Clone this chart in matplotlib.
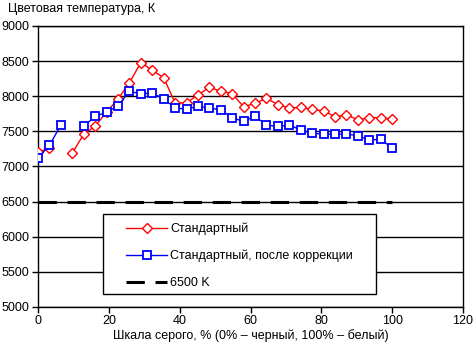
import matplotlib
matplotlib.use('Agg')
import matplotlib.pyplot as plt
from matplotlib.patches import Rectangle
import numpy as np

plt.rcParams['font.family'] = ['Liberation Sans', 'DejaVu Sans']
plt.rcParams['font.size'] = 9

# gray levels, %
x = np.arange(32) * 100.0 / 31

# Стандартный
red = [7204, 7260, np.nan, 7190, 7460, 7575, 7775, 7960, 8190, 8480, 8370, 8265,
       7905, 7905, 8020, 8125, 8075, 8035, 7850, 7900, 7970, 7880, 7835, 7840,
       7815, 7790, 7710, 7735, 7665, 7695, 7695, 7675]

# Стандартный, после коррекции
blue = [7124, 7300, 7590, np.nan, 7575, 7712, 7775, 7860, 8075, 8030, 8050, 7960,
        7835, 7815, 7860, 7830, 7810, 7690, 7645, 7715, 7590, 7570, 7590, 7520,
        7475, 7460, 7460, 7460, 7440, 7375, 7390, 7260]

ref_x = [0, 100]
ref_y = [6500, 6500]

fig = plt.figure(figsize=(4.73, 3.49), dpi=100)
ax = fig.add_axes([38/473, 1 - 307/349, 425/473, 281/349])

ax.plot(x, red, color='red', lw=1, marker='D', ms=5, mfc='white', mec='red', mew=1,
        label='Стандартный', zorder=3)
ax.plot(x, blue, color='blue', lw=1, marker='s', ms=5.5, mfc='white', mec='blue', mew=1.3,
        label='Стандартный, после коррекции', zorder=4)
ax.plot(ref_x, ref_y, color='black', lw=2.2, ls=(0, (6, 3.5)), label='6500 K', zorder=2)

ax.set_xlim(0, 120)
ax.set_ylim(5000, 9000)
ax.set_xticks(range(0, 121, 20))
ax.set_yticks(range(5000, 9001, 500))
ax.yaxis.grid(True, color='black', lw=1)
ax.set_axisbelow(True)
ax.tick_params(direction='out', length=4, width=1, colors='black', pad=2)
for s in ax.spines.values():
    s.set_linewidth(1)

ax.set_xlabel('Шкала серого, % (0% – черный, 100% – белый)', labelpad=1)
fig.text(8/473, 1 - 9/349, 'Цветовая температура, К', ha='left', va='center')

# legend frame drawn separately, legend itself frameless
box = Rectangle((0.153, 0.046), 0.642, 0.285, transform=ax.transAxes,
                facecolor='white', edgecolor='black', lw=1, zorder=5)
ax.add_patch(box)
leg = ax.legend(loc='upper left', bbox_to_anchor=(0.207, 0.301), frameon=False,
                handlelength=3.3, handletextpad=0.25, borderpad=0, labelspacing=1.2,
                borderaxespad=0)
leg.set_zorder(6)

fig.savefig('out.png', dpi=100)
